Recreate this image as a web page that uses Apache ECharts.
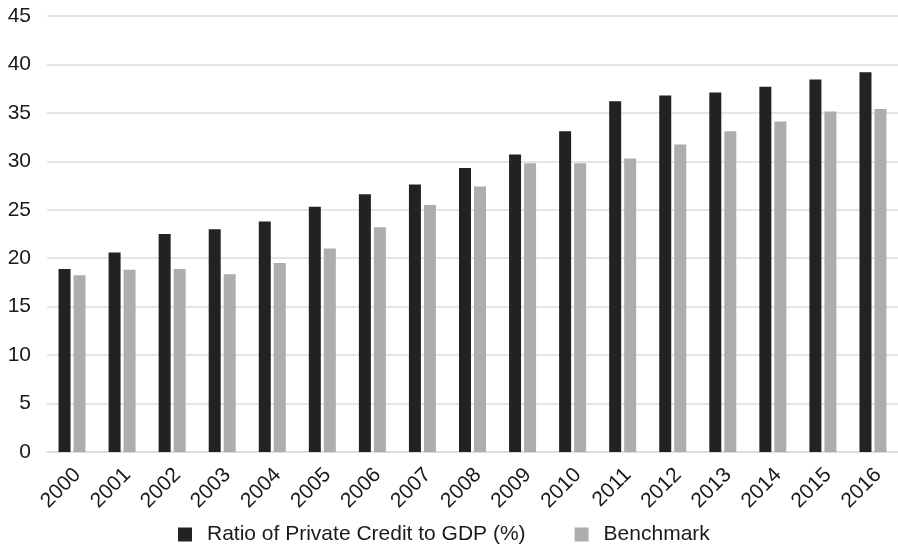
<!DOCTYPE html>
<html>
<head>
<meta charset="utf-8">
<script src="https://cdn.jsdelivr.net/npm/echarts@6/dist/echarts.min.js"></script>
<style>
html,body{margin:0;padding:0;background:#fff;}
#chart{width:898px;height:545px;}
</style>
</head>
<body>
<div id="chart"></div>
<script>
const categories = ['2000','2001','2002','2003','2004','2005','2006','2007','2008','2009','2010','2011','2012','2013','2014','2015','2016'];
const privateCredit = [18.9, 20.6, 22.5, 23.0, 23.8, 25.3, 26.6, 27.6, 29.3, 30.7, 33.1, 36.2, 36.8, 37.1, 37.7, 38.45, 39.2];
const benchmark = [18.25, 18.8, 18.9, 18.35, 19.5, 21.0, 23.2, 25.5, 27.4, 29.8, 29.8, 30.3, 31.75, 33.1, 34.1, 35.15, 35.4];
const seriesNames = ['Ratio of Private Credit to GDP (%)', 'Benchmark'];

const font = '"Liberation Sans", Arial, Helvetica, sans-serif';
const chart = echarts.init(document.getElementById('chart'), null, {renderer: 'canvas'});
chart.setOption({
  animation: false,
  backgroundColor: '#ffffff',
  textStyle: {fontFamily: font},
  grid: {left: 47, top: 16, width: 853, bottom: 93, containLabel: false},
  legend: {
    left: 173, top: 519,
    itemWidth: 14, itemHeight: 14, itemGap: 49,
    icon: 'rect',
    textStyle: {fontSize: 21, color: '#1a1a1a', fontFamily: font, padding: [0,0,0,10]},
    data: seriesNames
  },
  xAxis: {
    type: 'category',
    data: categories,
    axisTick: {show: false},
    axisLine: {lineStyle: {color: '#d9d9d9', width: 1.5}},
    axisLabel: {rotate: 45, fontSize: 21, color: '#1a1a1a', margin: 10, interval: 0, fontFamily: font, verticalAlign: 'top', padding: [0, 3, 0, 0]}
  },
  yAxis: {
    type: 'value',
    min: 0, max: 45, interval: 5,
    axisLine: {show: false},
    axisTick: {show: false},
    axisLabel: {fontSize: 21, color: '#1a1a1a', margin: 16, fontFamily: font},
    splitLine: {lineStyle: {color: '#dcdcdc', width: 1.5}}
  },
  series: [
    {name: seriesNames[0], type: 'bar', data: privateCredit, barWidth: 12, barGap: '25%', itemStyle: {color: '#222222'}},
    {name: seriesNames[1], type: 'bar', data: benchmark, barWidth: 12, itemStyle: {color: '#adadad'}}
  ]
});
</script>
</body>
</html>
